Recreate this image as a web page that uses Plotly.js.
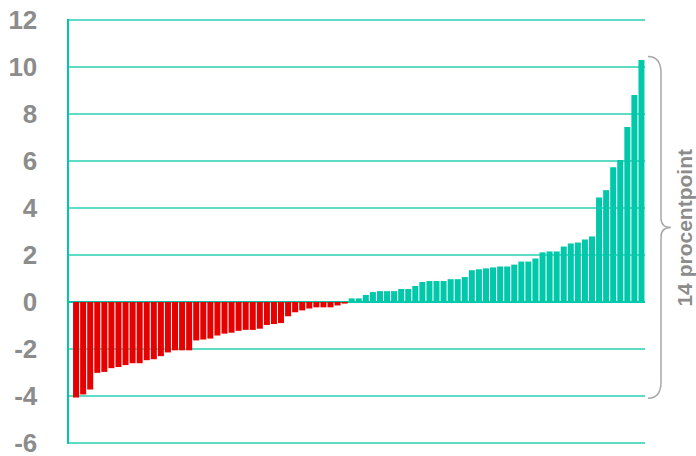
<!DOCTYPE html>
<html>
<head>
<meta charset="utf-8">
<script src="https://cdn.plot.ly/plotly-3.0.1.min.js"></script>
<style>html,body{margin:0;padding:0;background:#fff;}#chart{width:696px;height:456px;}</style>
</head>
<body>
<div id="chart"></div>
<script>
// Sorted differences (procentpoint), one bar each
var values = [
  -4.07, -3.94, -3.73, -3.02, -2.98, -2.82, -2.77, -2.69, -2.61, -2.61,
  -2.48, -2.44, -2.31, -2.15, -2.06, -2.06, -2.06, -1.64, -1.60, -1.56,
  -1.43, -1.35, -1.31, -1.23, -1.19, -1.19, -1.14, -0.98, -0.94, -0.90,
  -0.61, -0.44, -0.36, -0.28, -0.23, -0.23, -0.23, -0.15, -0.07,
  0.15, 0.15, 0.30, 0.42, 0.46, 0.46, 0.46, 0.55, 0.55, 0.68,
  0.85, 0.89, 0.89, 0.89, 0.97, 0.97, 1.06, 1.35, 1.39, 1.43,
  1.47, 1.51, 1.51, 1.59, 1.72, 1.72, 1.85, 2.11, 2.15, 2.15,
  2.36, 2.49, 2.53, 2.66, 2.79, 4.45, 4.76, 5.74, 6.04, 7.45,
  8.81, 10.30
];
var positions = values.map(function (v, i) { return i; });
var tickValues = [-6, -4, -2, 0, 2, 4, 6, 8, 10, 12];
var tickLabels = ["-6", "-4", "-2", "0", "2", "4", "6", "8", "10", "12"];
var braceLabel = "14 procentpoint";

var TEAL = "#00c8aa";
var RED = "#e60000";
var GREY = "#8c8c8c";

var yMin = -6.05, yMax = 12.05;
var maxV = Math.max.apply(null, values);
var minV = Math.min.apply(null, values);
function py(v) { return (v - yMin) / (yMax - yMin); }

var yt = py(maxV + 0.15), yb = py(minV - 0.03), ym = (yt + yb) / 2;
var xa = 1.0052, xb = 1.0278, xc = 1.045;
var r = 0.7 / 18, r2 = 0.4 / 18;
var bracePath = "M" + xa + "," + yt +
  " Q" + xb + "," + yt + " " + xb + "," + (yt - r) +
  " L" + xb + "," + (ym + r2) +
  " Q" + xb + "," + ym + " " + xc + "," + ym +
  " Q" + xb + "," + ym + " " + xb + "," + (ym - r2) +
  " L" + xb + "," + (yb + r) +
  " Q" + xb + "," + yb + " " + xa + "," + yb;

var trace = {
  type: "bar",
  x: positions,
  y: values,
  marker: { color: values.map(function (v) { return v < 0 ? RED : TEAL; }), line: { width: 0 } },
  hoverinfo: "none"
};

var layout = {
  width: 696,
  height: 456,
  margin: { l: 69, r: 51, t: 19, b: 12, pad: 0 },
  paper_bgcolor: "#ffffff",
  plot_bgcolor: "#ffffff",
  showlegend: false,
  bargap: 0.15,
  xaxis: {
    range: [-1, 80.5],
    showgrid: false, zeroline: false, showline: false,
    showticklabels: false, ticks: ""
  },
  yaxis: {
    range: [yMin, yMax],
    tickvals: tickValues,
    ticktext: tickLabels,
    ticks: "",
    ticklabelstandoff: 24,
    ticklabeloverflow: "allow",
    tickfont: { family: "Liberation Sans, Arial, sans-serif", size: 26, color: GREY, weight: "bold" },
    showgrid: true,
    gridcolor: "#5fdcc6",
    gridwidth: 1.5,
    zeroline: true,
    zerolinecolor: TEAL,
    zerolinewidth: 2.5,
    showline: true,
    linecolor: TEAL,
    linewidth: 2.5
  },
  shapes: [{
    type: "path",
    xref: "paper", yref: "paper",
    path: bracePath,
    line: { color: "#a8a8a8", width: 1.5 }
  }],
  annotations: [{
    xref: "paper", yref: "paper",
    x: 1.068, y: ym,
    text: braceLabel,
    textangle: -90,
    showarrow: false,
    xanchor: "center", yanchor: "middle",
    font: { family: "Liberation Sans, Arial, sans-serif", size: 21, color: GREY, weight: "bold" }
  }]
};

Plotly.newPlot("chart", [trace], layout, { staticPlot: true, displayModeBar: false });
</script>
</body>
</html>
